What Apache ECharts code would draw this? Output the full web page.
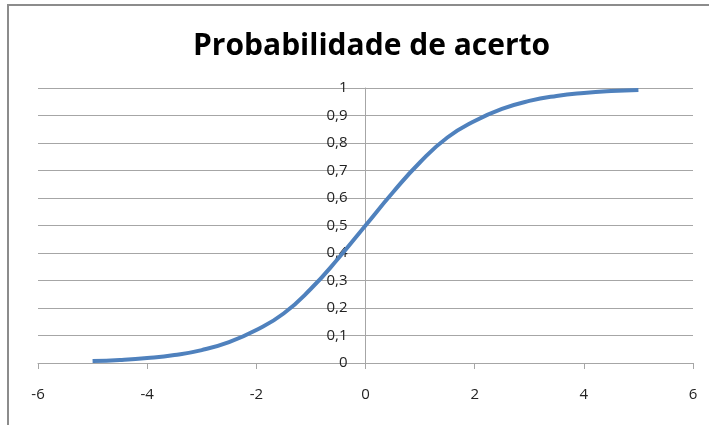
<!DOCTYPE html>
<html>
<head>
<meta charset="utf-8">
<script src="https://cdn.jsdelivr.net/npm/echarts@6/dist/echarts.min.js"></script>
<style>
  html, body { margin: 0; padding: 0; background: #fff; }
  .frame {
    position: absolute; left: 7px; top: 4px; width: 720px; height: 440px;
    border-left: 2px solid #8c8c8c; border-top: 2px solid #8c8c8c;
  }
  #chart { position: absolute; left: 0; top: 0; width: 709px; height: 425px; }
</style>
</head>
<body>
<div class="frame"></div>
<div id="chart"></div>
<script>
// valores
const xValues = [-5, -4.5, -4, -3.5, -3, -2.5, -2, -1.5, -1, -0.5, 0, 0.5, 1, 1.5, 2, 2.5, 3, 3.5, 4, 4.5, 5]
const probValues = [0.007, 0.011, 0.018, 0.029, 0.047, 0.076, 0.12, 0.18, 0.27, 0.38, 0.5, 0.62, 0.73, 0.82, 0.88, 0.924, 0.953, 0.971, 0.982, 0.989, 0.993]
const titleText = 'Probabilidade de acerto'

const chart = echarts.init(document.getElementById('chart'))
const font = "'Open Sans', 'Noto Sans', sans-serif"
const gridLeft = 38
const gridRight = 16
// eixo y cruza o x no zero (meio da largura do grid)
const yAxisShift = (709 - gridLeft - gridRight) / 2

chart.setOption({
  animation: false,
  title: {
    text: titleText,
    left: 188,
    top: 26,
    textStyle: { fontFamily: font, fontWeight: 'bold', fontSize: 30, color: '#000' }
  },
  grid: { left: gridLeft, right: gridRight, top: 88, bottom: 62 },
  xAxis: {
    type: 'value',
    min: -6,
    max: 6,
    interval: 2,
    axisLine: { onZero: false, lineStyle: { color: '#a6a6a6', width: 1 } },
    axisTick: { show: true, length: 6, lineStyle: { color: '#a6a6a6' } },
    axisLabel: { margin: 24, fontFamily: font, fontSize: 15, color: '#222' },
    splitLine: { show: false }
  },
  yAxis: {
    type: 'value',
    min: 0,
    max: 1,
    interval: 0.1,
    offset: -yAxisShift,
    axisLine: { show: true, onZero: false, lineStyle: { color: '#a6a6a6', width: 1 } },
    axisTick: { show: false },
    axisLabel: {
      margin: 18,
      fontFamily: font,
      fontSize: 15,
      color: '#222',
      formatter: v => String(Math.round(v * 10) / 10).replace('.', ',')
    },
    splitLine: { show: true, lineStyle: { color: '#a6a6a6', width: 1 } }
  },
  series: [{
    type: 'line',
    data: xValues.map((x, i) => [x, probValues[i]]),
    smooth: true,
    showSymbol: false,
    lineStyle: { color: '#4f81bd', width: 4 }
  }]
})
</script>
</body>
</html>
